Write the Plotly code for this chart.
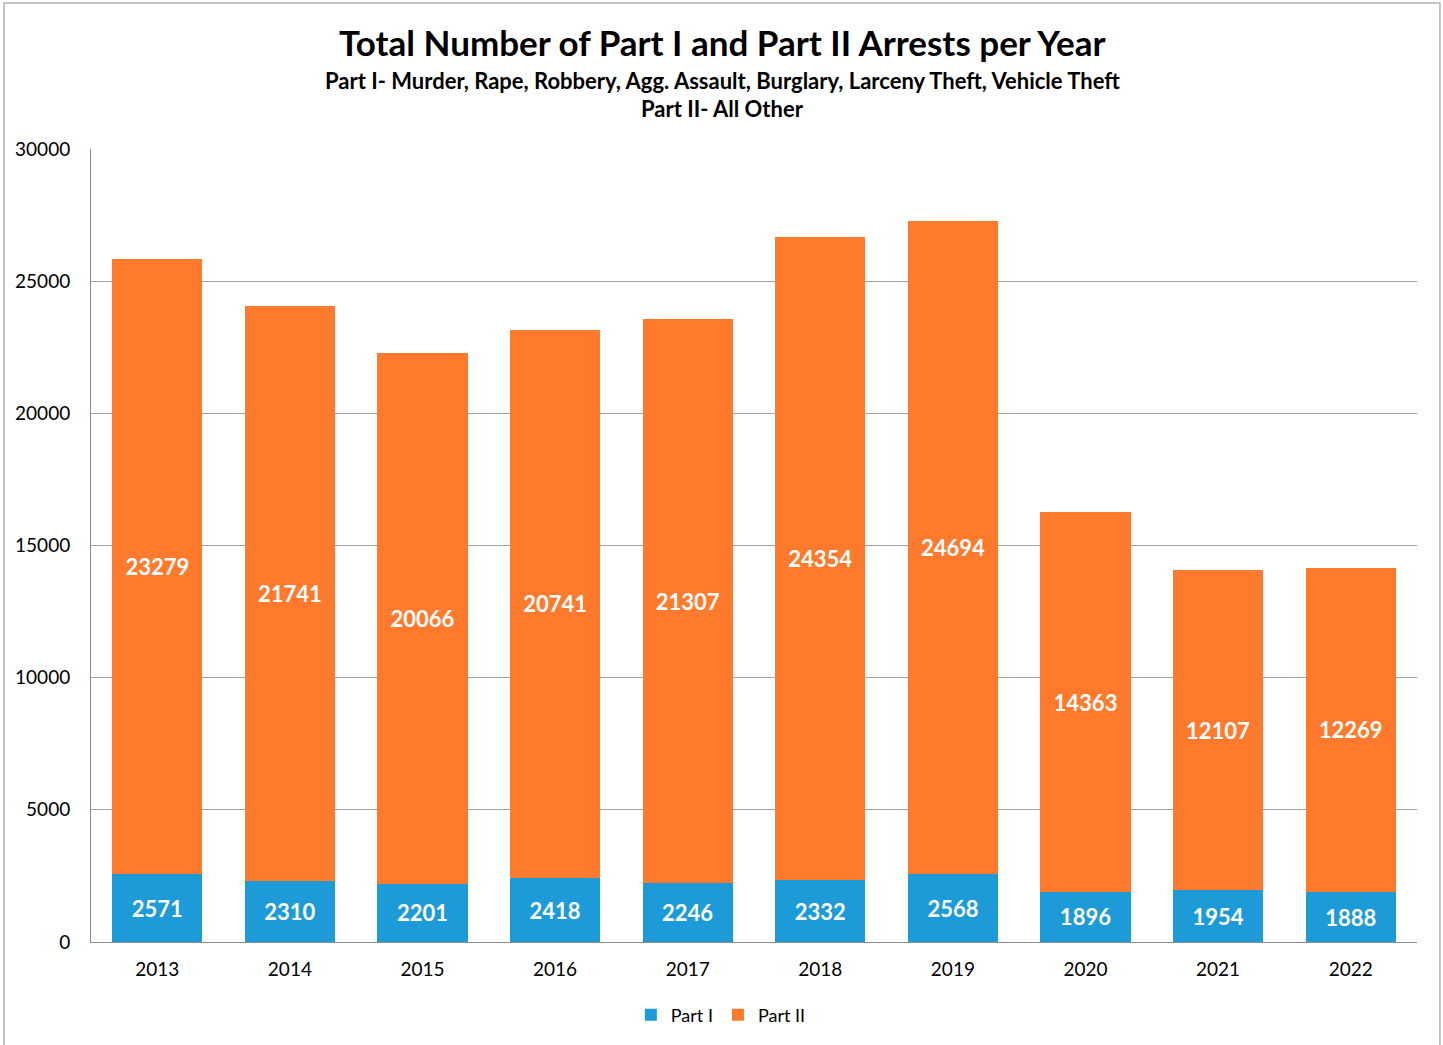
import plotly.graph_objects as go

years = ["2013", "2014", "2015", "2016", "2017", "2018", "2019", "2020", "2021", "2022"]
part1 = [2571, 2310, 2201, 2418, 2246, 2332, 2568, 1896, 1954, 1888]
part2 = [23279, 21741, 20066, 20741, 21307, 24354, 24694, 14363, 12107, 12269]

title_text = "Total Number of Part I and Part II Arrests per Year"
subtitle1 = "Part I- Murder, Rape, Robbery, Agg. Assault, Burglary, Larceny Theft, Vehicle Theft"
subtitle2 = "Part II- All Other"

FONT = "Lato"

fig = go.Figure()
fig.add_trace(go.Bar(
    x=years, y=part1, name="Part I",
    marker=dict(color="#1C9BD8", line=dict(width=0)),
    text=[str(v) for v in part1], textposition="inside", insidetextanchor="middle",
    textangle=0, constraintext="none",
    textfont=dict(family=FONT, size=22, color="white", weight="bold"),
))
fig.add_trace(go.Bar(
    x=years, y=part2, name="Part II",
    marker=dict(color="#FF7A2C", line=dict(width=0)),
    text=[str(v) for v in part2], textposition="inside", insidetextanchor="middle",
    textangle=0, constraintext="none",
    textfont=dict(family=FONT, size=22, color="white", weight="bold"),
))

fig.update_layout(
    barmode="stack",
    bargap=0.32,
    width=1443, height=1045,
    paper_bgcolor="white", plot_bgcolor="white",
    margin=dict(l=91, r=26, t=149, b=103),
    font=dict(family=FONT, color="black"),
    legend=dict(
        orientation="h", x=0.475, xanchor="center", y=-0.092, yanchor="middle",
        font=dict(family=FONT, size=18), traceorder="normal",
    ),
    showlegend=True,
)
fig.add_annotation(text="<b>" + title_text + "</b>", xref="paper", yref="paper",
                   x=0.476, y=1.135, xanchor="center", yanchor="middle", showarrow=False,
                   font=dict(family=FONT, size=35, color="black"))
fig.add_annotation(text="<b>" + subtitle1 + "</b>", xref="paper", yref="paper",
                   x=0.476, y=1.087, xanchor="center", yanchor="middle", showarrow=False,
                   font=dict(family=FONT, size=22, color="black"))
fig.add_annotation(text="<b>" + subtitle2 + "</b>", xref="paper", yref="paper",
                   x=0.476, y=1.051, xanchor="center", yanchor="middle", showarrow=False,
                   font=dict(family=FONT, size=22, color="black"))

fig.update_xaxes(
    showline=True, linecolor="#8c8c8c", linewidth=1,
    tickfont=dict(family=FONT, size=19), ticks="", ticklabelstandoff=10,
)
fig.update_yaxes(
    range=[0, 30000], dtick=5000, tickformat="d",
    showline=True, linecolor="#8c8c8c", linewidth=1,
    showgrid=True, gridcolor="#a0a0a0", gridwidth=1,
    tickfont=dict(family=FONT, size=19), ticks="", ticklabelstandoff=16,
    zeroline=False,
)
fig.add_shape(type="rect", xref="paper", yref="paper",
              x0=-0.0656, x1=1.0173, y0=-0.2, y1=1.184,
              line=dict(color="#b0b0b0", width=1.5), layer="below")

fig.write_html("out.html", config={"displayModeBar": False},
               post_script="document.body.style.margin='0px';")
